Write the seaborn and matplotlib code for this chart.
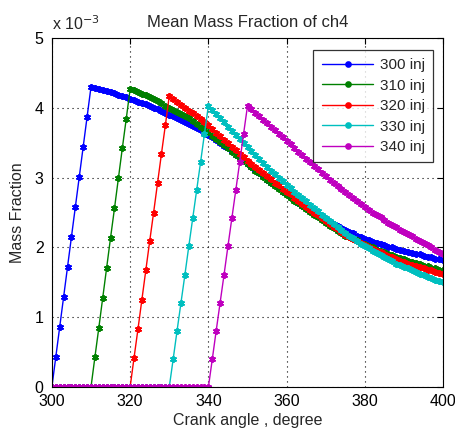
import numpy as np
import pandas as pd
import matplotlib
matplotlib.use('Agg')
import matplotlib.pyplot as plt
import seaborn as sns

sns.set_style('white')
plt.rcParams['font.family'] = ['Liberation Sans', 'DejaVu Sans']

# crank angle grid (degree)
crank = np.arange(300, 401)

# mean mass fraction of ch4, in units of 1e-3
inj_300 = [0.00,
           0.43, 0.86, 1.29, 1.72, 2.15, 2.58, 3.01, 3.44, 3.87, 4.30,
           4.29, 4.27, 4.26, 4.24, 4.23, 4.21, 4.19, 4.17, 4.15, 4.13,
           4.11, 4.09, 4.07, 4.05, 4.03, 4.00, 3.98, 3.95, 3.93, 3.90,
           3.88, 3.85, 3.83, 3.80, 3.77, 3.74, 3.71, 3.68, 3.65, 3.61,
           3.58, 3.54, 3.50, 3.46, 3.42, 3.38, 3.33, 3.29, 3.25, 3.20,
           3.15, 3.11, 3.06, 3.02, 2.97, 2.93, 2.89, 2.85, 2.80, 2.76,
           2.72, 2.68, 2.64, 2.60, 2.56, 2.53, 2.49, 2.46, 2.43, 2.40,
           2.37, 2.34, 2.31, 2.28, 2.25, 2.22, 2.20, 2.17, 2.15, 2.12,
           2.10, 2.08, 2.06, 2.05, 2.03, 2.01, 2.00, 1.98, 1.97, 1.95,
           1.94, 1.92, 1.91, 1.90, 1.88, 1.87, 1.86, 1.84, 1.83, 1.82]

inj_310 = [0.00,
           0.00, 0.00, 0.00, 0.00, 0.00, 0.00, 0.00, 0.00, 0.00, 0.00,
           0.43, 0.85, 1.28, 1.71, 2.14, 2.56, 2.99, 3.42, 3.84, 4.27,
           4.25, 4.23, 4.20, 4.18, 4.16, 4.13, 4.10, 4.07, 4.03, 4.00,
           3.97, 3.94, 3.91, 3.88, 3.85, 3.81, 3.77, 3.73, 3.69, 3.65,
           3.60, 3.56, 3.51, 3.47, 3.42, 3.37, 3.33, 3.28, 3.24, 3.19,
           3.15, 3.10, 3.06, 3.01, 2.97, 2.93, 2.88, 2.84, 2.79, 2.75,
           2.71, 2.67, 2.63, 2.59, 2.55, 2.51, 2.47, 2.43, 2.39, 2.35,
           2.31, 2.28, 2.24, 2.21, 2.17, 2.15, 2.12, 2.10, 2.07, 2.05,
           2.02, 2.00, 1.97, 1.95, 1.93, 1.91, 1.89, 1.87, 1.85, 1.83,
           1.81, 1.79, 1.78, 1.76, 1.74, 1.73, 1.71, 1.70, 1.68, 1.67]

inj_320 = [0.00,
           0.00, 0.00, 0.00, 0.00, 0.00, 0.00, 0.00, 0.00, 0.00, 0.00,
           0.00, 0.00, 0.00, 0.00, 0.00, 0.00, 0.00, 0.00, 0.00, 0.00,
           0.42, 0.83, 1.25, 1.67, 2.09, 2.50, 2.92, 3.34, 3.75, 4.17,
           4.13, 4.09, 4.04, 4.00, 3.96, 3.92, 3.88, 3.84, 3.79, 3.75,
           3.70, 3.64, 3.59, 3.54, 3.49, 3.44, 3.39, 3.34, 3.29, 3.24,
           3.20, 3.15, 3.11, 3.06, 3.02, 2.98, 2.93, 2.89, 2.84, 2.80,
           2.76, 2.71, 2.67, 2.62, 2.58, 2.54, 2.50, 2.46, 2.42, 2.38,
           2.34, 2.30, 2.26, 2.22, 2.18, 2.15, 2.12, 2.09, 2.07, 2.04,
           2.01, 1.98, 1.95, 1.93, 1.90, 1.88, 1.86, 1.83, 1.81, 1.79,
           1.77, 1.75, 1.74, 1.72, 1.70, 1.68, 1.67, 1.65, 1.64, 1.62]

inj_330 = [0.00,
           0.00, 0.00, 0.00, 0.00, 0.00, 0.00, 0.00, 0.00, 0.00, 0.00,
           0.00, 0.00, 0.00, 0.00, 0.00, 0.00, 0.00, 0.00, 0.00, 0.00,
           0.00, 0.00, 0.00, 0.00, 0.00, 0.00, 0.00, 0.00, 0.00, 0.00,
           0.40, 0.81, 1.21, 1.61, 2.02, 2.42, 2.82, 3.22, 3.63, 4.03,
           3.97, 3.91, 3.85, 3.79, 3.73, 3.67, 3.61, 3.56, 3.50, 3.44,
           3.38, 3.32, 3.26, 3.21, 3.15, 3.10, 3.05, 3.00, 2.95, 2.90,
           2.85, 2.80, 2.75, 2.71, 2.66, 2.61, 2.56, 2.52, 2.47, 2.42,
           2.38, 2.33, 2.29, 2.25, 2.21, 2.17, 2.13, 2.09, 2.05, 2.02,
           1.99, 1.95, 1.92, 1.89, 1.86, 1.83, 1.80, 1.77, 1.75, 1.72,
           1.70, 1.67, 1.65, 1.62, 1.60, 1.58, 1.56, 1.54, 1.52, 1.50]

inj_340 = [0.00,
           0.00, 0.00, 0.00, 0.00, 0.00, 0.00, 0.00, 0.00, 0.00, 0.00,
           0.00, 0.00, 0.00, 0.00, 0.00, 0.00, 0.00, 0.00, 0.00, 0.00,
           0.00, 0.00, 0.00, 0.00, 0.00, 0.00, 0.00, 0.00, 0.00, 0.00,
           0.00, 0.00, 0.00, 0.00, 0.00, 0.00, 0.00, 0.00, 0.00, 0.00,
           0.40, 0.81, 1.21, 1.61, 2.02, 2.42, 2.82, 3.22, 3.63, 4.03,
           3.98, 3.93, 3.88, 3.83, 3.78, 3.73, 3.68, 3.63, 3.58, 3.53,
           3.48, 3.43, 3.37, 3.32, 3.27, 3.22, 3.17, 3.12, 3.07, 3.02,
           2.97, 2.93, 2.88, 2.84, 2.79, 2.75, 2.71, 2.66, 2.62, 2.58,
           2.54, 2.50, 2.46, 2.43, 2.39, 2.35, 2.32, 2.29, 2.25, 2.22,
           2.19, 2.16, 2.12, 2.09, 2.06, 2.03, 2.00, 1.96, 1.93, 1.90]

labels = ['300 inj', '310 inj', '320 inj', '330 inj', '340 inj']
colors = ['#0000ff', '#008000', '#ff0000', '#00bfbf', '#bf00bf']

series = [inj_300, inj_310, inj_320, inj_330, inj_340]
frames = []
for lab, vals in zip(labels, series):
    frames.append(pd.DataFrame({'crank': crank, 'mf': vals, 'case': lab}))
df = pd.concat(frames, ignore_index=True)

fig = plt.figure(figsize=(4.55, 4.32), dpi=100)
ax = fig.add_axes([0.114, 0.104, 0.86, 0.808])

for lab, col in zip(labels, colors):
    sub = df[df['case'] == lab]
    sns.lineplot(data=sub, x='crank', y='mf', color=col, label=lab,
                 marker=(6, 2, 0), markersize=5, markeredgewidth=1.3,
                 markeredgecolor=col, markerfacecolor=col, linewidth=1.0,
                 ax=ax, estimator=None, sort=False)

ax.set_xlim(300, 400)
ax.set_ylim(0, 5)
ax.set_xticks([300, 320, 340, 360, 380, 400])
ax.set_yticks([0, 1, 2, 3, 4, 5])
ax.tick_params(direction='in', top=True, right=True, length=4,
               labelsize=11.5, colors='black')
ax.tick_params(axis='y', pad=6)
ax.tick_params(axis='x', pad=5)
ax.grid(True, linestyle=(0, (1, 3.5)), color='black', linewidth=0.8)
for s in ax.spines.values():
    s.set_color('black')
    s.set_linewidth(0.8)

ax.set_title('Mean Mass Fraction of ch4', fontsize=12, pad=8)
ax.set_xlabel('Crank angle , degree', fontsize=11.5, labelpad=3)
ax.set_ylabel('Mass Fraction', fontsize=11.5, labelpad=7)
ax.text(0.0, 1.015, r'x 10$^{-3}$', transform=ax.transAxes, fontsize=11.5,
        ha='left', va='bottom')

h, l = ax.get_legend_handles_labels()
leg = ax.legend(h, l, loc='upper right', bbox_to_anchor=(0.974, 0.966),
                borderaxespad=0, fontsize=11, frameon=True, fancybox=False,
                edgecolor='black', handlelength=3.4, handletextpad=0.4,
                labelspacing=0.42, borderpad=0.55)
leg.get_frame().set_linewidth(0.9)
for lh in leg.get_lines():
    lh.set_marker('.')
    lh.set_markersize(7)

fig.savefig('out.png', dpi=100)
